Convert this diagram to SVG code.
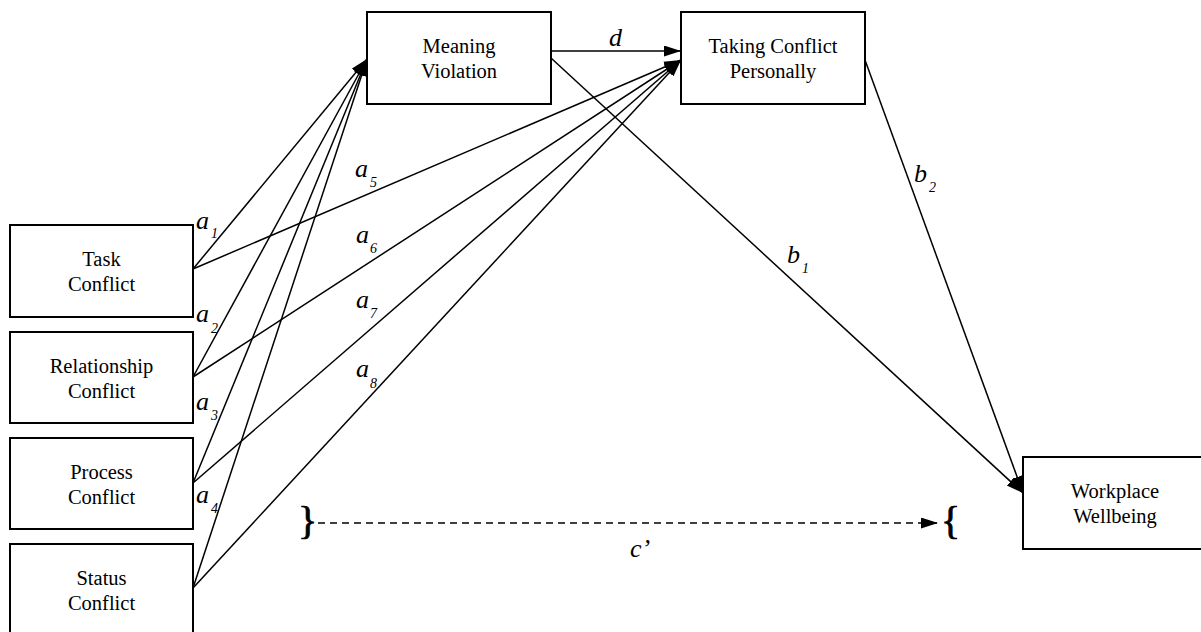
<svg xmlns="http://www.w3.org/2000/svg" width="1201" height="632" viewBox="0 0 1201 632">
<style>
.box{fill:#fff;stroke:#000;stroke-width:2}
.t{font-family:"Liberation Serif","DejaVu Serif",serif;font-size:20.5px;text-anchor:middle;fill:#000}
.l{font-family:"Liberation Serif",serif;font-style:italic;font-size:26px;fill:#000}
.s{font-family:"Liberation Serif",serif;font-style:italic;font-size:14px;fill:#000}
.c line{stroke:#000;stroke-width:1.5;fill:none}
.br{font-family:"Liberation Serif",serif;font-size:40px;fill:#000;stroke:#000;stroke-width:0.8}
</style>
<defs>
<marker id="ah" markerUnits="userSpaceOnUse" markerWidth="18" markerHeight="12" refX="17" refY="5.5" orient="auto">
<path d="M0,0 L17,5.5 L0,11 z" fill="#000"/>
</marker>
</defs>
<rect width="1201" height="632" fill="#fff"/>
<g id="connectors" class="c">
<line x1="193" y1="269" x2="367" y2="59" marker-end="url(#ah)"/>
<line x1="193" y1="377" x2="367" y2="59" marker-end="url(#ah)"/>
<line x1="193" y1="483" x2="367" y2="59" marker-end="url(#ah)"/>
<line x1="193" y1="588" x2="367" y2="59" marker-end="url(#ah)"/>
<line x1="193" y1="269" x2="681" y2="60" marker-end="url(#ah)"/>
<line x1="193" y1="377" x2="681" y2="60" marker-end="url(#ah)"/>
<line x1="193" y1="483" x2="681" y2="60" marker-end="url(#ah)"/>
<line x1="193" y1="588" x2="681" y2="60" marker-end="url(#ah)"/>
<line x1="551" y1="51" x2="681" y2="51" marker-end="url(#ah)"/>
<line x1="551" y1="58" x2="1023" y2="493" marker-end="url(#ah)"/>
<line x1="865" y1="60" x2="1023" y2="493" marker-end="url(#ah)"/>
<line x1="318" y1="523" x2="938" y2="523" stroke-dasharray="7 5" marker-end="url(#ah)"/>
</g>
<g id="labels">
<text class="l" x="196" y="229">a</text><text class="s" x="211" y="238">1</text>
<text class="l" x="196" y="322">a</text><text class="s" x="211" y="333">2</text>
<text class="l" x="196" y="410">a</text><text class="s" x="211" y="420">3</text>
<text class="l" x="196" y="503">a</text><text class="s" x="211" y="513">4</text>
<text class="l" x="355" y="177">a</text><text class="s" x="370" y="187">5</text>
<text class="l" x="356" y="243">a</text><text class="s" x="370" y="253">6</text>
<text class="l" x="356" y="308">a</text><text class="s" x="370" y="318">7</text>
<text class="l" x="356" y="377">a</text><text class="s" x="370" y="388">8</text>
<text class="l" x="609" y="46">d</text>
<text class="l" x="787" y="263">b</text><text class="s" x="802" y="273">1</text>
<text class="l" x="914" y="182">b</text><text class="s" x="929" y="192">2</text>
<text class="l" x="640" y="557" text-anchor="middle">c’</text>
<text class="br" x="298" y="534">}</text>
<text class="br" x="941" y="534">{</text>
</g>
<g id="task"><rect class="box" x="10" y="225" width="183" height="92"/><text class="t" x="101.5" y="266">Task</text><text class="t" x="101.5" y="291">Conflict</text></g>
<g id="relationship"><rect class="box" x="10" y="332" width="183" height="91"/><text class="t" x="101.5" y="373">Relationship</text><text class="t" x="101.5" y="398">Conflict</text></g>
<g id="process"><rect class="box" x="10" y="438" width="183" height="91"/><text class="t" x="101.5" y="479">Process</text><text class="t" x="101.5" y="504">Conflict</text></g>
<g id="status"><rect class="box" x="10" y="544" width="183" height="92"/><text class="t" x="101.5" y="585">Status</text><text class="t" x="101.5" y="610">Conflict</text></g>
<g id="meaning"><rect class="box" x="367" y="12" width="184" height="92"/><text class="t" x="459" y="53">Meaning</text><text class="t" x="459" y="78">Violation</text></g>
<g id="taking"><rect class="box" x="681" y="12" width="184" height="92"/><text class="t" x="773" y="53">Taking Conflict</text><text class="t" x="773" y="78">Personally</text></g>
<g id="wellbeing"><rect class="box" x="1023" y="457" width="184" height="92"/><text class="t" x="1115" y="498">Workplace</text><text class="t" x="1115" y="523">Wellbeing</text></g>
</svg>
